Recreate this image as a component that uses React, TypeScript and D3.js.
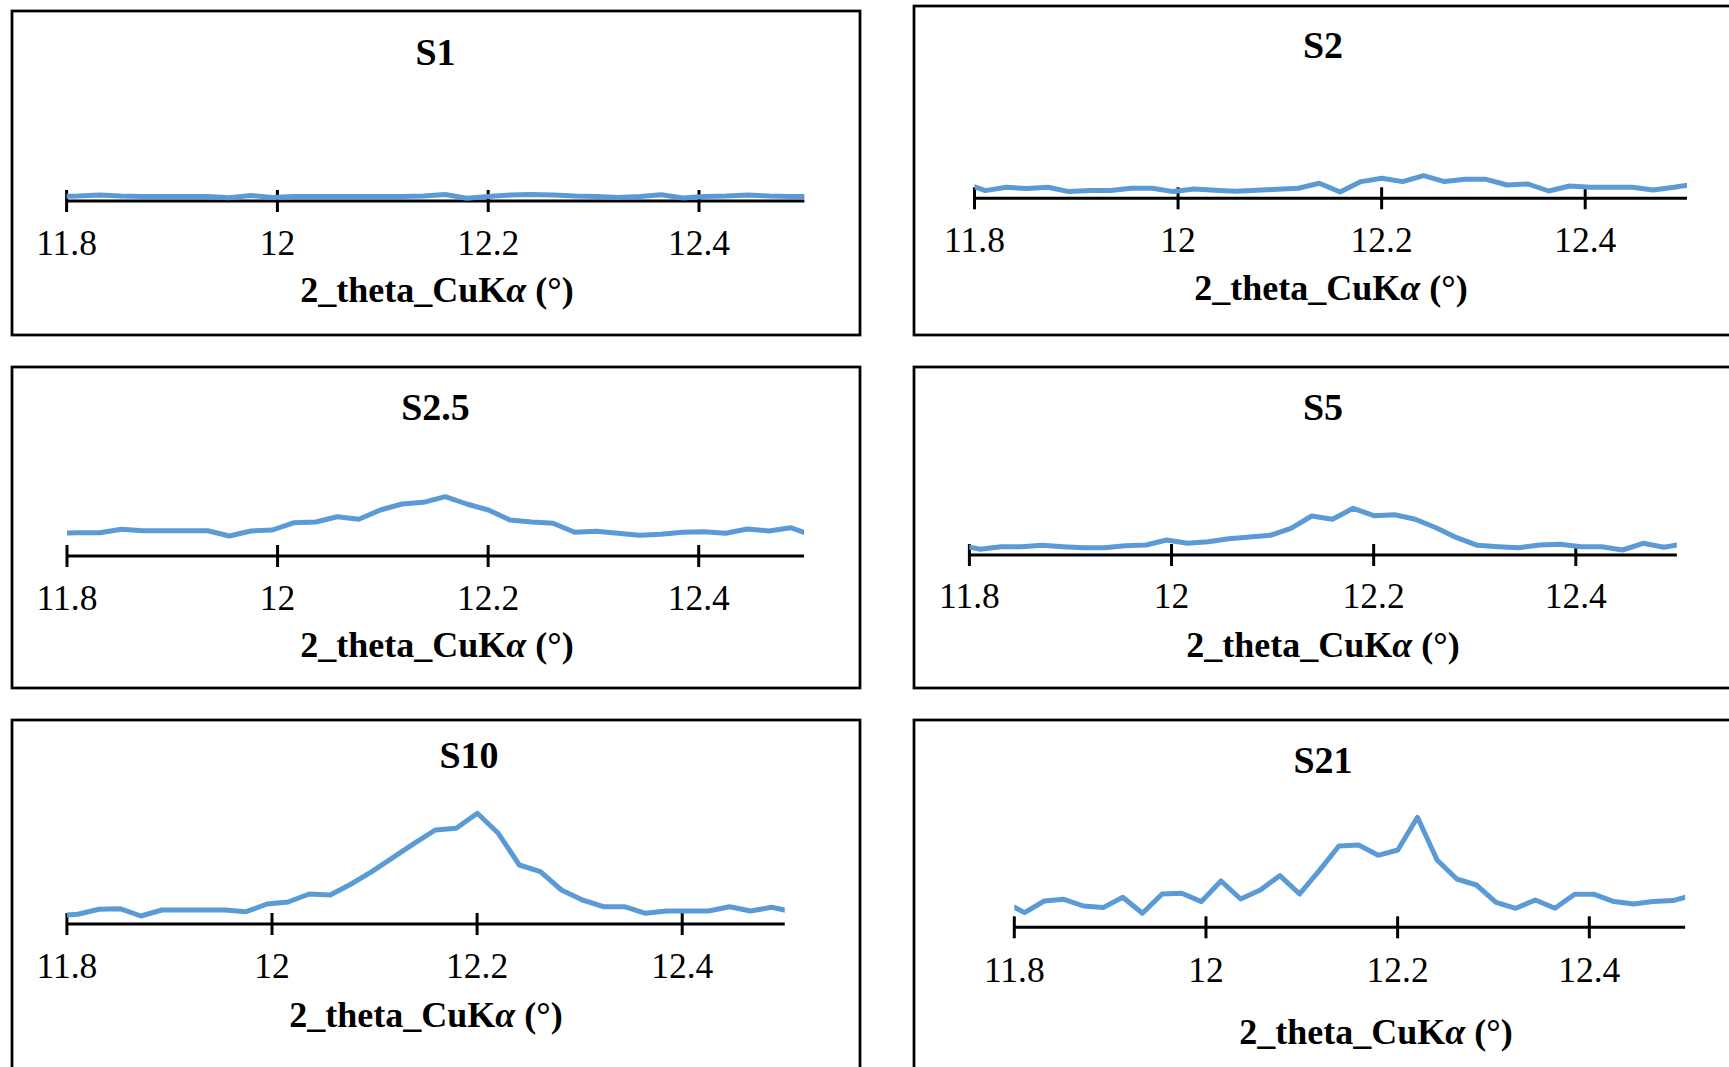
import React from "react";
import * as d3 from "d3";

// 2θ sampling positions (°)
const twoTheta = [
  11.7902, 11.8107, 11.8312, 11.8517, 11.8722, 11.8927, 11.9132, 11.9337, 11.9542,
  11.9747, 11.9952, 12.0157, 12.0362, 12.0567, 12.0772, 12.0977, 12.1182, 12.1387,
  12.1592, 12.1797, 12.2002, 12.2207, 12.2412, 12.2617, 12.2822, 12.3027, 12.3232,
  12.3437, 12.3642, 12.3847, 12.4052, 12.4257, 12.4462, 12.4667, 12.4872, 12.5077,
];

// intensities (a.u.)
const s1 = [45, 50, 60, 50, 45, 45, 45, 45, 33, 55, 35, 45, 45, 45, 45, 45, 45, 50, 65, 28, 45, 60, 65, 60, 50, 45, 35, 45, 63, 30, 45, 50, 60, 50, 45, 45];
const s2 = [150, 77, 110, 97, 110, 67, 77, 77, 100, 100, 67, 93, 80, 70, 80, 90, 100, 150, 63, 167, 200, 167, 227, 167, 190, 190, 133, 143, 73, 123, 110, 110, 110, 83, 110, 143];
const s25 = [227, 233, 233, 267, 253, 253, 253, 253, 200, 250, 260, 333, 340, 393, 367, 460, 520, 537, 593, 520, 460, 360, 340, 327, 237, 247, 227, 207, 217, 237, 243, 227, 270, 250, 283, 208];
const s5 = [100, 57, 83, 83, 97, 83, 73, 73, 93, 100, 150, 117, 133, 163, 180, 197, 267, 390, 357, 467, 393, 403, 357, 273, 173, 97, 83, 73, 100, 107, 83, 83, 50, 117, 77, 114];
const s10 = [83, 97, 147, 153, 80, 140, 140, 140, 140, 123, 200, 220, 300, 290, 400, 527, 667, 807, 940, 957, 1107, 907, 590, 523, 340, 240, 173, 173, 107, 130, 130, 130, 173, 130, 167, 123];
const s21 = [250, 147, 263, 280, 213, 197, 300, 140, 333, 340, 257, 463, 283, 373, 517, 333, 567, 813, 823, 720, 773, 1100, 673, 483, 423, 250, 190, 273, 190, 330, 330, 257, 233, 257, 267, 320];

const seriesList = [s1, s2, s25, s5, s10, s21];
const panelTitles = ["S1", "S2", "S2.5", "S5", "S10", "S21"];
const xDomain = [11.8, 12.5];
const xTicks = [11.8, 12, 12.2, 12.4];
const xTickLabels = ["11.8", "12", "12.2", "12.4"];
const axisTitleA = "2_theta_CuK";
const axisTitleB = "α";
const axisTitleC = " (°)";

// layout (pixels)
const layouts = [
  { box: [12, 11, 848, 324], x0: 66.6, x4: 699, ay: 201, tx: 435.5, ty: 65, lx: 437, ly: 301.5, tl: 255 },
  { box: [914, 6, 900, 329], x0: 974.5, x4: 1585.2, ay: 198.3, tx: 1323, ty: 58, lx: 1331, ly: 300, tl: 252 },
  { box: [12, 367, 848, 321], x0: 67, x4: 698.7, ay: 556, tx: 435.5, ty: 420, lx: 437, ly: 656.5, tl: 610 },
  { box: [914, 367, 900, 321], x0: 969.4, x4: 1575.8, ay: 555, tx: 1323, ty: 420, lx: 1323, ly: 656.5, tl: 608 },
  { box: [12, 720, 848, 400], x0: 66.9, x4: 682.2, ay: 924, tx: 469, ty: 768, lx: 426, ly: 1026.5, tl: 978 },
  { box: [914, 720, 900, 400], x0: 1014.3, x4: 1589.3, ay: 927.3, tx: 1323, ty: 773, lx: 1376, ly: 1044, tl: 981.5 },
];

const FONT = "'Liberation Serif', 'Times New Roman', Times, serif";
const LINE = "#5B9BD5";

function Panel({ idx }: { idx: number }) {
  const L = layouts[idx];
  const values = seriesList[idx];
  const x1 = L.x0 + ((L.x4 - L.x0) * (xDomain[1] - xDomain[0])) / 0.6;
  const x = d3.scaleLinear().domain(xDomain).range([L.x0, x1]);
  const y = d3.scaleLinear().domain([0, 1000]).range([L.ay, L.ay - 100]);
  const pts = twoTheta.map((t, i) => [t, values[i]] as [number, number]);
  const line = d3
    .line<[number, number]>()
    .x((d) => x(d[0]))
    .y((d) => y(d[1]));
  const clipId = `clip-${idx}`;
  return (
    <g>
      <rect
        x={L.box[0]}
        y={L.box[1]}
        width={L.box[2]}
        height={L.box[3]}
        fill="#fff"
        stroke="#000"
        strokeWidth={2.75}
      />
      <defs>
        <clipPath id={clipId}>
          <rect x={x(xDomain[0])} y={L.ay - 200} width={x(xDomain[1]) - x(xDomain[0])} height={220} />
        </clipPath>
      </defs>
      <text x={L.tx} y={L.ty} textAnchor="middle" fontFamily={FONT} fontWeight="bold" fontSize={38} fill="#000">
        {panelTitles[idx]}
      </text>
      <line x1={x(xDomain[0])} x2={x(xDomain[1])} y1={L.ay} y2={L.ay} stroke="#000" strokeWidth={3} />
      {xTicks.map((t, i) => (
        <g key={i}>
          <line x1={x(t)} x2={x(t)} y1={L.ay - 11} y2={L.ay + 11} stroke="#000" strokeWidth={3} />
          <text x={x(t)} y={L.tl} textAnchor="middle" fontFamily={FONT} fontSize={35.5} fill="#000">
            {xTickLabels[i]}
          </text>
        </g>
      ))}
      <path
        d={line(pts) || ""}
        fill="none"
        stroke={LINE}
        strokeWidth={5}
        strokeLinejoin="round"
        clipPath={`url(#${clipId})`}
      />
      <text x={L.lx} y={L.ly} textAnchor="middle" fontFamily={FONT} fontWeight="bold" fontSize={36} fill="#000">
        {axisTitleA}
        <tspan fontStyle="italic">{axisTitleB}</tspan>
        {axisTitleC}
      </text>
    </g>
  );
}

export default function App() {
  return (
    <svg
      width={1729}
      height={1067}
      style={{ position: "absolute", left: 0, top: 0, background: "#fff", overflow: "hidden" }}
    >
      <rect x={0} y={0} width={1729} height={1067} fill="#fff" />
      {layouts.map((_, i) => (
        <Panel key={i} idx={i} />
      ))}
    </svg>
  );
}
